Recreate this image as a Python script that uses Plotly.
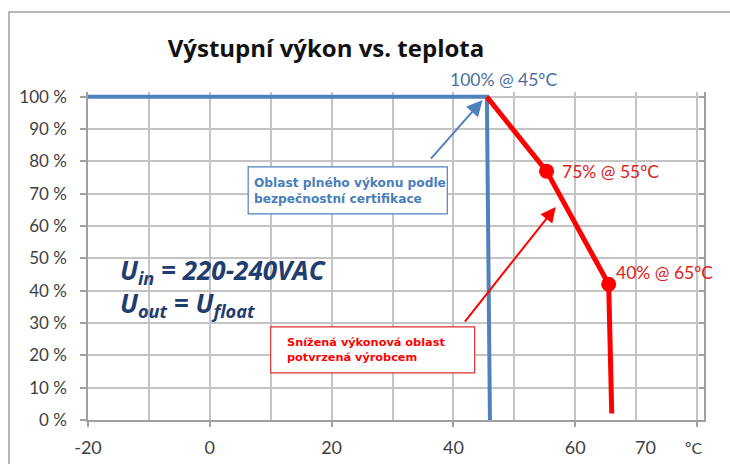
import plotly.graph_objects as go

# Data
blue_x = [-20, 45.5, 46]
blue_y = [100, 100, 0]
red_x = [45.5, 55.3, 65.5, 66]
red_y = [100, 77, 42, 2]
marker_x = red_x[1:3]
marker_y = red_y[1:3]
x_tickvals = [-20, 0, 20, 40, 60, 80]
x_ticktext = ["-20", "0", "20", "40", "60", ""]
y_tickvals = [0, 10, 20, 30, 40, 50, 60, 70, 80, 90, 100]
y_ticktext = [f"{v} %" for v in y_tickvals]

BLUE = "#4f81bd"
RED = "#ff0000"
GRID = "#c4c4c4"
TXT = "#404040"

fig = go.Figure()
fig.add_trace(go.Scatter(x=blue_x, y=blue_y, mode="lines",
                         line=dict(color=BLUE, width=4), hoverinfo="skip"))
fig.add_trace(go.Scatter(x=red_x, y=red_y, mode="lines",
                         line=dict(color=RED, width=5), hoverinfo="skip"))
fig.add_trace(go.Scatter(x=marker_x, y=marker_y, mode="markers",
                         marker=dict(color=RED, size=15), hoverinfo="skip"))
fig.add_trace(go.Scatter(x=[None], y=[None], yaxis="y2", showlegend=False))

fig.update_layout(
    template="none",
    width=730, height=464,
    margin=dict(l=88, r=26, t=92, b=44, autoexpand=False),
    paper_bgcolor="white", plot_bgcolor="white",
    showlegend=False,
    font=dict(family="Lato", color=TXT),
    title=dict(text="<b>Výstupní výkon vs. teplota</b>",
               x=326/730, xanchor="center", xref="container",
               y=1-49/464, yanchor="middle", yref="container",
               font=dict(family="Open Sans", size=24, color="#111111")),
    xaxis=dict(range=[-20, 81.15], tickvals=x_tickvals, ticktext=x_ticktext,
               automargin=False,
               showgrid=True, gridcolor=GRID, gridwidth=1.5,
               minor=dict(dtick=10, tick0=0, showgrid=True, gridcolor=GRID, gridwidth=1.5),
               ticks="outside", ticklen=5, tickcolor="#a0a0a0", tickwidth=1.5,
               showline=True, linecolor="#a0a0a0", linewidth=1.5,
               zeroline=False, tickfont=dict(size=18, color=TXT),
               ticklabelstandoff=6),
    yaxis=dict(range=[0, 101.5], tickvals=y_tickvals, ticktext=y_ticktext,
               automargin=False,
               showgrid=True, gridcolor=GRID, gridwidth=1.5,
               ticks="outside", ticklen=6, tickcolor="#a0a0a0", tickwidth=1.5,
               showline=True, linecolor="#a0a0a0", linewidth=1.5,
               zeroline=False, tickfont=dict(size=17, color=TXT),
               ticklabelstandoff=10),
    yaxis2=dict(range=[0, 101.5], overlaying="y", side="right", anchor="x",
                automargin=False,
                tickvals=y_tickvals, showticklabels=False, showgrid=False,
                ticks="inside", ticklen=5, tickcolor="#a0a0a0", tickwidth=1.5,
                showline=True, linecolor="#a0a0a0", linewidth=1.5, zeroline=False),
)

# outer frame
fig.add_shape(type="rect", xref="paper", yref="paper",
              x0=(9-88)/616, x1=(740-88)/616, y0=(420-475)/328, y1=(420-12)/328,
              line=dict(color="#a0a0a0", width=1.5), layer="below")

# boxes
fig.add_shape(type="rect", x0=6.3, x1=39.0, y0=63.8, y1=78.3,
              line=dict(color=BLUE, width=1.2), fillcolor="white", layer="above")
fig.add_shape(type="rect", x0=10.0, x1=43.5, y0=14.6, y1=28.8,
              line=dict(color="#e03030", width=1.2), fillcolor="white", layer="above")

ann = []
ann.append(dict(x=6.9, y=71.0, xanchor="left", yanchor="middle", showarrow=False, align="left",
                text="<b>Oblast plného výkonu podle<br>bezpečnostní certifikace</b>",
                font=dict(family="DejaVu Sans", size=12.2, color="#4a7ebb")))
ann.append(dict(x=12.3, y=21.6, xanchor="left", yanchor="middle", showarrow=False, align="left",
                text="<b>Snížená výkonová oblast<br>potvrzená výrobcem</b>",
                font=dict(family="DejaVu Sans", size=11.3, color=RED)))
# arrows
ann.append(dict(x=44.8, y=99.0, ax=-53, ay=60, text="", showarrow=True,
                arrowhead=2, arrowsize=1.6, arrowwidth=2, arrowcolor=BLUE))
ann.append(dict(x=56.8, y=65.9, ax=-92, ay=116, text="", showarrow=True,
                arrowhead=2, arrowsize=1.5, arrowwidth=2, arrowcolor=RED))
# point labels
ann.append(dict(x=45.5, y=100, yshift=17, xshift=17, showarrow=False, text="100% @ 45ºC",
                font=dict(family="Lato", size=17.5, color="#4a6fa0")))
ann.append(dict(x=marker_x[0], y=marker_y[0], xanchor="left", xshift=13, showarrow=False,
                text="75% @ 55ºC", font=dict(family="Lato", size=17.5, color="#e02020")))
ann.append(dict(x=marker_x[1], y=marker_y[1], xanchor="left", xshift=5, yshift=12, showarrow=False,
                text="40% @ 65ºC", font=dict(family="Lato", size=17.5, color="#e02020")))
# voltage text
ann.append(dict(x=-15.0, y=46.0, xanchor="left", yanchor="middle", showarrow=False,
                text="<b><i>U<sub>in</sub> = 220-240VAC</i></b>",
                font=dict(family="Open Sans", size=26, color="#1f3d6e")))
ann.append(dict(x=-15.0, y=35.8, xanchor="left", yanchor="middle", showarrow=False,
                text="<b><i>U<sub>out</sub> = U<sub>float</sub></i></b>",
                font=dict(family="Open Sans", size=26, color="#1f3d6e")))
# odd axis labels
ann.append(dict(x=(645-88)/616, y=(420-447)/328, xref="paper", yref="paper", showarrow=False,
                xanchor="center", yanchor="middle",
                text="70", font=dict(size=18, color=TXT)))
ann.append(dict(x=(693-88)/616, y=(420-447)/328, xref="paper", yref="paper", showarrow=False,
                xanchor="center", yanchor="middle",
                text="ºC", font=dict(size=16, color=TXT)))
fig.update_layout(annotations=ann)

fig.write_html("out.html", config={"displayModeBar": False},
               post_script="document.body.style.margin='0';document.body.style.overflow='hidden';")
